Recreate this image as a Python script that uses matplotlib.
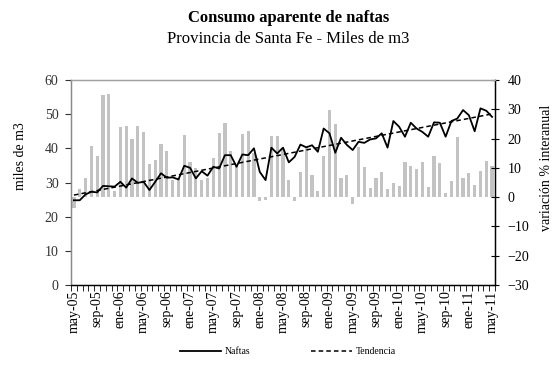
import numpy as np
import matplotlib
matplotlib.use("Agg")
import matplotlib.pyplot as plt
from matplotlib.ticker import MultipleLocator, FixedLocator

plt.rcParams["font.family"] = ["Liberation Serif", "DejaVu Serif"]

# Monthly series, May 2005 - May 2011
mes_abbr = ["ene", "feb", "mar", "abr", "may", "jun", "jul", "ago", "sep", "oct", "nov", "dic"]
meses = [f"{mes_abbr[(4 + i) % 12]}-{(5 + (4 + i) // 12):02d}" for i in range(73)]

# Consumo aparente de naftas (miles de m3)
naftas = [24.8, 24.8, 26.5, 27.3, 27.1, 29.0, 28.9, 28.8, 30.2, 28.5, 31.2, 29.9,
          30.2, 27.8, 30.2, 32.7, 31.4, 31.5, 30.9, 34.9, 34.3, 31.2, 33.3, 32.0,
          34.6, 34.1, 38.0, 38.0, 34.6, 38.2, 38.0, 40.0, 33.1, 30.7, 40.2, 38.5,
          40.2, 35.9, 37.5, 41.1, 40.3, 40.9, 39.0, 45.8, 44.4, 38.7, 43.1, 41.0,
          39.5, 41.9, 41.6, 42.6, 42.9, 44.4, 40.2, 48.0, 46.3, 43.4, 47.5, 45.8,
          44.8, 43.4, 47.6, 47.5, 43.4, 48.0, 48.7, 51.2, 49.7, 45.0, 51.7, 51.0,
          49.2]

# Variación % interanual
variacion = [-3.8, 2.9, 6.4, 17.5, 13.9, 35.0, 35.2, 2.0, 24.0, 24.4, 20.0, 24.4,
             22.4, 11.2, 12.8, 18.2, 15.8, 6.0, 6.6, 21.2, 12.0, 10.0, 5.8, 6.4,
             13.4, 22.0, 25.2, 15.7, 11.0, 21.4, 22.5, 15.0, -1.2, -1.0, 20.8, 20.8,
             16.3, 5.8, -1.4, 8.7, 17.4, 7.5, 2.0, 14.2, 29.9, 25.0, 6.4, 7.7,
             -2.2, 17.0, 10.2, 3.2, 6.4, 8.7, 2.9, 4.9, 3.8, 12.0, 10.5, 9.7,
             12.0, 3.4, 14.2, 11.5, 1.5, 5.5, 20.5, 6.4, 8.3, 4.1, 8.9, 12.4,
             10.8]

x = np.arange(len(meses))
# Linear trend of the consumption series
coef = np.polyfit(x, naftas, 1)
tendencia = np.polyval(coef, x)

W, H = 552, 365
fig = plt.figure(figsize=(W / 100, H / 100), dpi=100)

ax = fig.add_axes([71 / W, 1 - 285 / H, 424 / W, 205 / H])
ax.bar(x, variacion, width=0.55, color="#c3c3c3", zorder=1)
ax.set_ylim(-30, 40)
ax.set_xlim(-0.5, len(meses) - 0.5)

# Month ticks at category boundaries, labels every four months
ax.xaxis.set_major_locator(FixedLocator(x[::4]))
ax.set_xticklabels(meses[::4], rotation=90, fontsize=10)
ax.xaxis.set_minor_locator(FixedLocator(np.arange(-0.5, len(meses), 1.0)))
ax.tick_params(axis="x", which="major", length=0, pad=4)
ax.tick_params(axis="x", which="minor", length=4, width=0.6, direction="out")

ax2 = ax.twinx()
ax2.plot(x, naftas, color="black", lw=1.3, label="Naftas", zorder=3)
ax2.plot(x, tendencia, color="black", lw=1.1, ls=(0, (3, 2)), label="Tendencia", zorder=3)
ax2.set_ylim(0, 60)

# Percentage scale on the right, volume scale on the left
ax.yaxis.tick_right()
ax.yaxis.set_label_position("right")
ax.yaxis.set_major_locator(MultipleLocator(10))
ax.tick_params(axis="y", direction="inout", length=6, width=0.8, labelsize=10, pad=6,
               left=False, labelleft=False, right=True, labelright=True)

ax2.yaxis.tick_left()
ax2.yaxis.set_label_position("left")
ax2.yaxis.set_major_locator(MultipleLocator(10))
ax2.tick_params(axis="y", direction="out", length=4, width=0.8, labelsize=10, pad=5,
                colors="#333333", left=True, labelleft=True, right=False, labelright=False)

for a in (ax, ax2):
    a.spines["top"].set_color("#a0a0a0")
    a.spines["left"].set_color("#8a8a8a")
    a.spines["right"].set_color("black")
    a.spines["bottom"].set_color("black")
    for s in a.spines.values():
        s.set_linewidth(0.9)

fig.text(20 / W, 1 - 156 / H, "miles de m3", rotation=90, ha="center", va="center", fontsize=10)
fig.text(547 / W, 1 - 168 / H, "variación % interanual", rotation=90, ha="center", va="center", fontsize=10)

fig.text(0.5 * (71 + 495) / W + 0.01, 1 - 18 / H, "Consumo aparente de naftas",
         ha="center", va="center", fontsize=12, fontweight="bold")
fig.text(0.5 * (71 + 495) / W + 0.01, 1 - 39 / H, "Provincia de Santa Fe - Miles de m3",
         ha="center", va="center", fontsize=12)

h, l = ax2.get_legend_handles_labels()
fig.legend(h, l, loc="center", bbox_to_anchor=(288 / W, 1 - 352 / H), ncol=2, frameon=False,
           fontsize=7, handlelength=4.2, columnspacing=6.2, handletextpad=0.4)

fig.savefig("out.png", dpi=100)
